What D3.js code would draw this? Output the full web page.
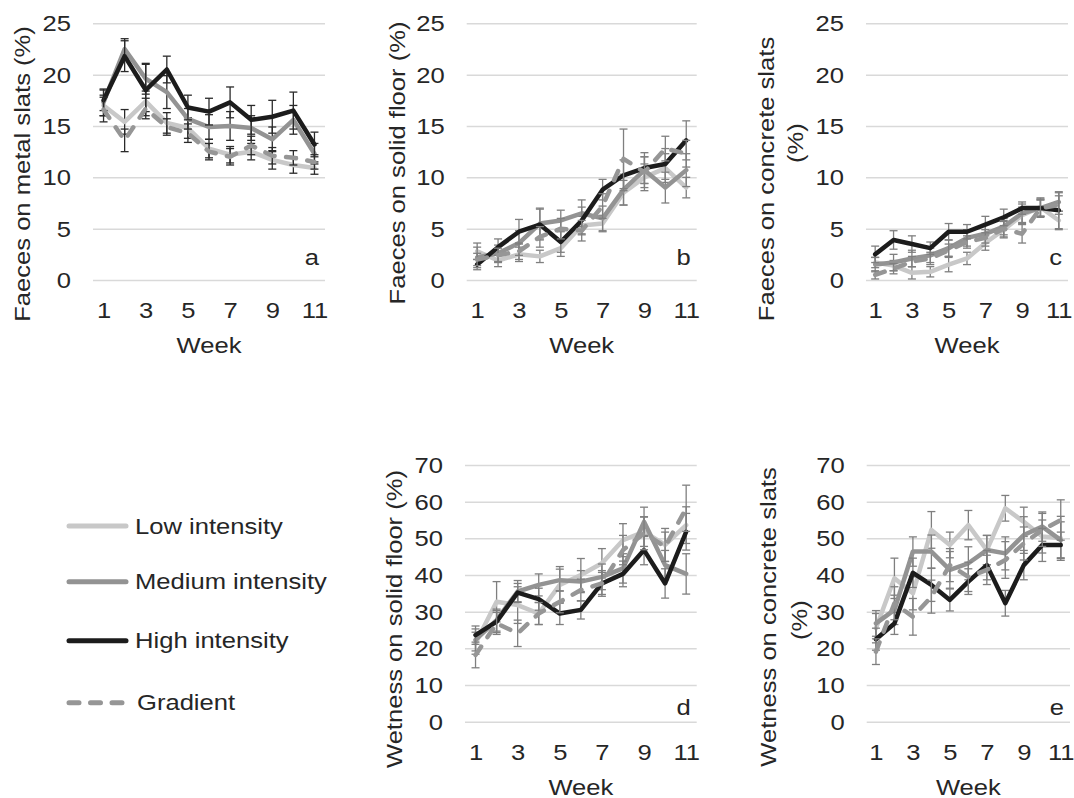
<!DOCTYPE html>
<html>
<head>
<meta charset="utf-8">
<script src="https://cdn.jsdelivr.net/npm/d3@7"></script>
<style>
  html, body { margin: 0; padding: 0; background: #fff; }
  svg text { font-family: "Liberation Sans", Arial, sans-serif; font-size: 21.5px; fill: #262626; }
</style>
</head>
<body>
<div id="chart"></div>
<script>
// weeks on the x axis
const weeks = [1, 2, 3, 4, 5, 6, 7, 8, 9, 10, 11]
const weekTicks = [1, 3, 5, 7, 9, 11]
const faecesTicks = [0, 5, 10, 15, 20, 25]
const wetTicks = [0, 10, 20, 30, 40, 50, 60, 70]

// a: faeces on metal slats (%)
const metalLow = [17.0, 15.4, 17.4, 15.3, 14.8, 12.8, 12.2, 12.5, 11.7, 11.2, 10.9]
const metalMedium = [17.3, 22.5, 19.6, 18.3, 15.7, 14.9, 15.0, 14.8, 13.7, 15.6, 12.3]
const metalHigh = [17.5, 21.8, 18.5, 20.5, 16.8, 16.4, 17.3, 15.6, 15.9, 16.5, 13.2]
const metalGradient = [16.6, 13.6, 16.7, 14.9, 14.3, 12.5, 12.0, 13.1, 12.1, 11.9, 11.5]
const metalLowSe = [1.0, 1.2, 1.0, 1.0, 1.0, 0.9, 0.8, 0.8, 0.9, 0.8, 0.6]
const metalMediumSe = [1.3, 1.0, 1.5, 1.6, 1.0, 1.2, 1.4, 1.2, 1.2, 1.4, 1.0]
const metalHighSe = [1.0, 1.5, 2.5, 1.3, 1.2, 1.3, 1.5, 1.4, 1.6, 1.8, 1.2]
const metalGradientSe = [1.2, 1.1, 1.0, 0.8, 0.9, 0.8, 0.8, 0.9, 0.8, 0.7, 0.7]

// b: faeces on solid floor (%)
const solidLow = [2.8, 1.9, 2.5, 2.3, 3.1, 5.3, 5.5, 8.5, 10.0, 10.9, 9.0]
const solidMedium = [2.2, 2.6, 3.6, 5.5, 5.8, 6.5, 6.0, 8.8, 10.7, 9.0, 10.7]
const solidHigh = [1.5, 3.2, 4.7, 5.4, 3.7, 5.8, 8.8, 10.2, 10.9, 11.3, 13.6]
const solidGradient = [2.0, 2.4, 2.8, 4.2, 5.0, 4.8, 7.2, 11.8, 10.5, 12.8, 12.3]
const solidLowSe = [0.8, 0.6, 0.7, 0.6, 0.8, 0.9, 0.8, 1.2, 1.3, 1.4, 1.0]
const solidMediumSe = [1.0, 0.8, 1.2, 1.5, 1.0, 1.3, 1.2, 1.5, 1.3, 1.5, 1.6]
const solidHighSe = [0.5, 0.8, 1.2, 1.5, 1.0, 1.3, 1.0, 1.5, 1.5, 1.5, 1.9]
const solidGradientSe = [0.6, 0.7, 0.8, 1.0, 1.0, 1.0, 1.2, 2.9, 1.5, 1.2, 1.3]

// c: faeces on concrete slats (%)
const concreteLow = [1.7, 1.4, 0.7, 0.8, 1.5, 2.1, 3.6, 4.9, 6.3, 7.1, 5.8]
const concreteMedium = [1.5, 1.7, 2.1, 2.4, 3.1, 4.1, 4.5, 5.2, 6.5, 7.0, 7.6]
const concreteHigh = [2.5, 3.9, 3.5, 3.1, 4.7, 4.7, 5.4, 6.1, 7.0, 7.0, 6.8]
const concreteGradient = [0.5, 1.1, 1.8, 2.1, 2.9, 3.7, 4.1, 5.0, 4.5, 7.0, 7.3]
const concreteLowSe = [0.5, 0.5, 0.6, 0.5, 0.7, 0.6, 0.7, 0.8, 0.8, 0.9, 0.9]
const concreteMediumSe = [0.7, 0.8, 0.8, 0.7, 0.8, 0.8, 0.9, 0.8, 0.9, 0.8, 0.9]
const concreteHighSe = [0.8, 0.9, 0.8, 0.6, 0.8, 0.7, 0.8, 0.8, 0.6, 0.9, 1.8]
const concreteGradientSe = [0.4, 0.5, 0.5, 0.6, 0.6, 0.6, 0.8, 0.8, 0.9, 0.8, 0.9]

// d: wetness on solid floor (%)
const wetSolidLow = [21.4, 32.7, 31.8, 29.5, 37.3, 40.0, 43.2, 49.5, 51.8, 48.2, 53.6]
const wetSolidMedium = [22.3, 27.7, 35.5, 37.3, 38.6, 38.2, 39.5, 41.8, 54.5, 42.7, 40.3]
const wetSolidHigh = [23.6, 27.3, 35.2, 33.4, 29.5, 30.5, 37.7, 40.3, 46.8, 37.7, 51.8]
const wetSolidGradient = [18.2, 26.8, 24.1, 29.5, 32.7, 35.9, 37.7, 46.8, 51.4, 47.7, 58.2]
const wetSolidLowSe = [3.0, 5.5, 5.0, 3.0, 5.0, 4.5, 4.0, 4.5, 4.0, 4.5, 5.0]
const wetSolidMediumSe = [3.0, 3.0, 3.0, 3.0, 3.0, 3.0, 3.5, 4.0, 4.0, 4.0, 5.5]
const wetSolidHighSe = [2.5, 3.0, 2.5, 3.0, 3.0, 2.5, 3.0, 3.5, 4.0, 4.0, 5.0]
const wetSolidGradientSe = [3.5, 3.0, 3.6, 3.0, 3.0, 3.0, 3.5, 4.0, 4.5, 4.0, 6.3]

// e: wetness on concrete slats (%)
const wetConcreteLow = [25.5, 39.1, 35.0, 52.3, 48.2, 53.6, 46.8, 58.2, 54.5, 50.5, 50.0]
const wetConcreteMedium = [26.8, 30.5, 46.4, 46.4, 41.4, 43.2, 46.8, 45.9, 50.9, 53.2, 49.5]
const wetConcreteHigh = [22.5, 26.8, 40.6, 37.3, 33.2, 38.2, 42.7, 32.3, 42.7, 48.2, 48.2]
const wetConcreteGradient = [19.1, 32.3, 28.6, 34.1, 42.7, 39.5, 41.4, 44.1, 48.6, 52.3, 55.0]
const wetConcreteLowSe = [4.0, 5.5, 4.5, 5.0, 3.5, 4.0, 4.0, 3.5, 4.0, 4.5, 6.0]
const wetConcreteMediumSe = [3.5, 4.0, 4.0, 4.5, 5.0, 4.5, 4.0, 4.5, 5.0, 4.0, 5.0]
const wetConcreteHighSe = [3.0, 3.0, 4.0, 4.5, 3.0, 3.5, 4.0, 3.5, 4.0, 4.5, 3.5]
const wetConcreteGradientSe = [3.5, 4.5, 5.0, 4.5, 4.5, 4.0, 4.0, 5.0, 4.5, 4.5, 5.5]

const seriesNames = ["Low intensity", "Medium intensity", "High intensity", "Gradient"]

// styling
const colors = ["#c8c8c8", "#939393", "#1c1c1c", "#969696"]
const dashes = [null, null, null, "10,11.5"]
const stretch = 1.19  // the original text is set wider than Liberation Sans

const svg = d3.select("#chart").append("svg")
  .attr("width", 1074)
  .attr("height", 798)

const panels = [
  { x0: 93, x1: 325, y0: 280, y1: 23.3, max: 25, ticks: faecesTicks, letter: "a", letterDy: 15, barColor: "#2a2a2a",
    title: ["Faeces on metal slats (%)"], titleX: [22], titleY: [174],
    means: [metalLow, metalMedium, metalHigh, metalGradient],
    errs: [metalLowSe, metalMediumSe, metalHighSe, metalGradientSe] },
  { x0: 466.7, x1: 696.7, y0: 280, y1: 23.3, max: 25, ticks: faecesTicks, letter: "b", letterDy: 15, barColor: "#7f7f7f",
    title: ["Faeces on solid floor (%)"], titleX: [397], titleY: [163],
    means: [solidLow, solidMedium, solidHigh, solidGradient],
    errs: [solidLowSe, solidMediumSe, solidHighSe, solidGradientSe] },
  { x0: 866, x1: 1068, y0: 280, y1: 23.3, max: 25, ticks: faecesTicks, letter: "c", letterDy: 15, barColor: "#7f7f7f",
    title: ["Faeces on concrete slats", "(%)"], titleX: [766, 795], titleY: [179, 143],
    means: [concreteLow, concreteMedium, concreteHigh, concreteGradient],
    errs: [concreteLowSe, concreteMediumSe, concreteHighSe, concreteGradientSe] },
  { x0: 465, x1: 696.7, y0: 721.7, y1: 465, max: 70, ticks: wetTicks, letter: "d", letterDy: 7, barColor: "#7f7f7f",
    title: ["Wetness on solid floor (%)"], titleX: [394], titleY: [619],
    means: [wetSolidLow, wetSolidMedium, wetSolidHigh, wetSolidGradient],
    errs: [wetSolidLowSe, wetSolidMediumSe, wetSolidHighSe, wetSolidGradientSe] },
  { x0: 866.7, x1: 1070, y0: 721.7, y1: 465, max: 70, ticks: wetTicks, letter: "e", letterDy: 7, barColor: "#7f7f7f",
    title: ["Wetness on concrete slats", "(%)"], titleX: [768, 799], titleY: [617, 620],
    means: [wetConcreteLow, wetConcreteMedium, wetConcreteHigh, wetConcreteGradient],
    errs: [wetConcreteLowSe, wetConcreteMediumSe, wetConcreteHighSe, wetConcreteGradientSe] }
]

panels.forEach(p => {
  const x = d3.scalePoint().domain(weeks).range([p.x0, p.x1]).padding(0.5)
  const y = d3.scaleLinear().domain([0, p.max]).range([p.y0, p.y1])
  const g = svg.append("g")

  // horizontal gridlines
  g.append("g")
    .attr("transform", "translate(" + p.x0 + ",0)")
    .call(d3.axisLeft(y).tickValues(p.ticks).tickSize(-(p.x1 - p.x0)).tickFormat(""))
    .call(a => a.select(".domain").remove())
    .selectAll("line").attr("stroke", "#d9d9d9").attr("stroke-width", 1.5)

  // y tick labels
  g.append("g")
    .attr("transform", "translate(" + p.x0 + ",0)")
    .call(d3.axisLeft(y).tickValues(p.ticks).tickSize(0))
    .call(a => a.select(".domain").remove())
    .selectAll("text")
      .attr("x", 0).attr("dy", "0.35em")
      .attr("transform", "translate(-22,0) scale(" + stretch + ",1)")
      .style("font-size", "21.5px").attr("fill", "#262626")

  // x tick labels
  g.append("g")
    .attr("transform", "translate(0," + p.y0 + ")")
    .call(d3.axisBottom(x).tickValues(weekTicks).tickSize(0).tickPadding(23))
    .call(a => a.select(".domain").remove())
    .selectAll("text")
      .attr("transform", "scale(" + stretch + ",1)")
      .style("font-size", "21.5px").attr("fill", "#262626")

  // x title
  g.append("text")
    .attr("text-anchor", "middle")
    .attr("transform", "translate(" + (p.x0 + p.x1) / 2 + "," + (p.y0 + 73) + ") scale(" + stretch + ",1)")
    .text("Week")

  // y title (one or two lines)
  p.title.forEach((t, i) => {
    g.append("text")
      .attr("text-anchor", "middle")
      .attr("dy", "0.35em")
      .attr("transform", "translate(" + p.titleX[i] + "," + p.titleY[i] + ") rotate(-90) scale(" + stretch + ",1)")
      .text(t)
  })

  // panel letter
  g.append("text")
    .attr("text-anchor", "end")
    .attr("transform", "translate(" + (p.x1 - 6) + "," + (p.y0 - p.letterDy) + ") scale(" + stretch + ",1)")
    .text(p.letter)

  const line = d3.line().x((d, i) => x(weeks[i])).y(d => y(d))

  p.means.forEach((vals, s) => {
    const se = p.errs[s]
    const eb = g.append("g").attr("stroke", p.barColor).attr("stroke-width", 1.3)
    eb.selectAll(".stem").data(vals).join("line")
      .attr("x1", (d, i) => x(weeks[i])).attr("x2", (d, i) => x(weeks[i]))
      .attr("y1", (d, i) => y(d - se[i])).attr("y2", (d, i) => y(d + se[i]))
    eb.selectAll(".capTop").data(vals).join("line")
      .attr("x1", (d, i) => x(weeks[i]) - 4).attr("x2", (d, i) => x(weeks[i]) + 4)
      .attr("y1", (d, i) => y(d + se[i])).attr("y2", (d, i) => y(d + se[i]))
    eb.selectAll(".capBottom").data(vals).join("line")
      .attr("x1", (d, i) => x(weeks[i]) - 4).attr("x2", (d, i) => x(weeks[i]) + 4)
      .attr("y1", (d, i) => y(d - se[i])).attr("y2", (d, i) => y(d - se[i]))

    g.append("path")
      .datum(vals)
      .attr("fill", "none")
      .attr("stroke", colors[s])
      .attr("stroke-width", 4.5)
      .attr("stroke-linejoin", "round")
      .attr("stroke-linecap", "round")
      .attr("stroke-dasharray", dashes[s])
      .attr("d", line)
  })
})

// legend
const legendY = [526, 581.7, 640.7, 702.7]
const legend = svg.append("g")
seriesNames.forEach((name, s) => {
  legend.append("line")
    .attr("x1", 69).attr("x2", 126)
    .attr("y1", legendY[s]).attr("y2", legendY[s])
    .attr("stroke", colors[s])
    .attr("stroke-width", 5)
    .attr("stroke-linecap", "round")
    .attr("stroke-dasharray", dashes[s])
  legend.append("text")
    .attr("dy", "0.35em")
    .attr("transform", "translate(" + (s === 3 ? 137 : 135) + "," + legendY[s] + ") scale(" + stretch + ",1)")
    .text(name)
})
</script>
</body>
</html>
